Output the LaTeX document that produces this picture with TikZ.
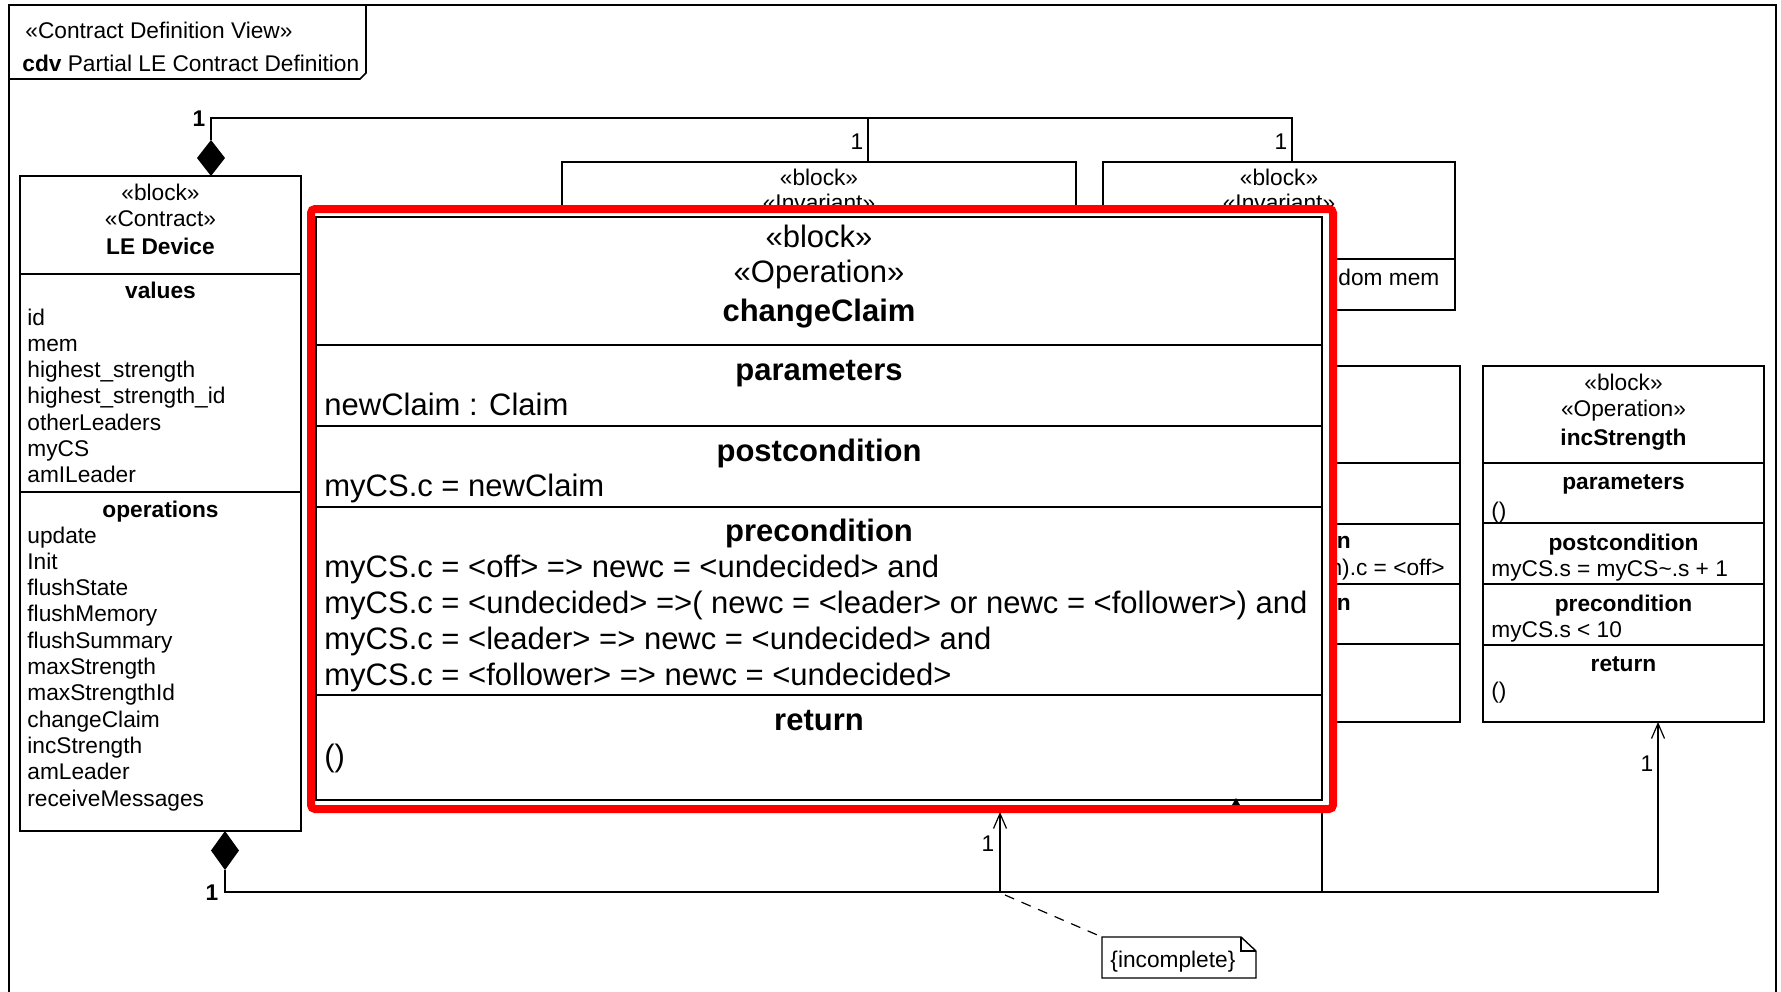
\documentclass[tikz,border=0pt]{standalone}
\usepackage{fontspec}
\setmainfont{Liberation Sans}
\usetikzlibrary{arrows.meta,shadows}

\begin{document}
\begin{tikzpicture}[x=0.5pt,y=-0.5pt,
  sm/.style={font=\fontsize{11.35pt}{13pt}\selectfont, inner sep=0pt, anchor=base},
  smb/.style={sm, font=\fontsize{11.35pt}{13pt}\selectfont\bfseries},
  sml/.style={sm, anchor=base west},
  lg/.style={font=\fontsize{15.5pt}{18pt}\selectfont, inner sep=0pt, anchor=base},
  lgb/.style={lg, font=\fontsize{15.5pt}{18pt}\selectfont\bfseries},
  lgl/.style={lg, anchor=base west},
  box/.style={draw=black, line width=1pt, fill=white},
  sep/.style={draw=black, line width=1pt},
  conn/.style={draw=black, line width=0.6pt},
  openhead/.style={-{Straight Barb[length=7.5pt,width=6.5pt,line width=0.6pt]}},
  note/.style={draw=black, line width=0.7pt, fill=white},
]
\useasboundingbox (0,0) rectangle (1781,991);

% diagram frame and its name tab
\draw[line width=1pt] (9,1000) -- (9,5) -- (1776,5) -- (1776,1000);
\draw[line width=0.8pt] (9,79) -- (360,79) -- (366,73) -- (366,5);
\node[sml] (tabkind) at (25,38) {«Contract Definition View»};
\node[sml] (tabname) at (22,71) {\textbf{cdv} Partial LE Contract Definition};

% LE Device contract block
\draw[box] (20,176) rectangle (301,831);
\draw[sep] (20,274) -- (301,274);
\draw[sep] (20,492) -- (301,492);
\node[sm]  (leS1) at (160.5,200) {«block»};
\node[sm]  (leS2) at (160.5,226) {«Contract»};
\node[smb] (leName) at (160.5,254) {LE Device};
\node[smb] (leVal) at (160.5,298) {values};
\foreach \t [count=\i] in {id,mem,highest\_strength,highest\_strength\_id,otherLeaders,myCS,amILeader}
  \node[sml] (val\i) at (27,{325+26.3*(\i-1)}) {\t};
\node[smb] (leOps) at (160.5,517) {operations};
\foreach \t [count=\i] in {update,Init,flushState,flushMemory,flushSummary,maxStrength,maxStrengthId,changeClaim,incStrength,amLeader,receiveMessages}
  \node[sml] (op\i) at (27,{543+26.3*(\i-1)}) {\t};

% invariant blocks along the top
\draw[box] (562,162) rectangle (1076,310);
\node[sm] (inv1S1) at (819,185) {«block»};
\node[sm] (inv1S2) at (819,210) {«Invariant»};
\draw[box] (1103,162) rectangle (1455,310);
\draw[sep] (1103,259) -- (1455,259);
\node[sm] (inv2S1) at (1279,185) {«block»};
\node[sm] (inv2S2) at (1279,210) {«Invariant»};
\node[sml] (inv2Body) at (1338,285) {dom mem};

% composition from LE Device to the invariants
\fill (211,176) -- (197,158) -- (211,140) -- (225,158) -- cycle;
\coordinate (dTop) at (211,140);
\coordinate (jInv1) at (868,118);
\coordinate (jInv2) at (1292,118);
\coordinate (inv1Top) at (868,162);
\coordinate (inv2Top) at (1292,162);
\draw[conn] (dTop) |- (jInv2) -- (inv2Top);
\draw[conn] (jInv1) -- (inv1Top);
\node[smb] (mTop) at (199,126) {1};
\node[sm] (mInv1) at (857,149) {1};
\node[sm] (mInv2) at (1281,149) {1};

% operation block partly behind changeClaim
\draw[box] (1100,366) rectangle (1460,722);
\foreach \yy in {463,524,584,644} \draw[sep] (1100,\yy) -- (1460,\yy);
\node[smb, anchor=base east] (hidPost) at (1351,548) {n};
\node[sm, anchor=base east] (hidPostBody) at (1445,575) {n).c = <off>};
\node[smb, anchor=base east] (hidPre) at (1351,610) {n};

% incStrength operation block
\draw[box] (1483,366) rectangle (1764,722);
\foreach \yy in {463,523,584,645} \draw[sep] (1483,\yy) -- (1764,\yy);
\node[sm]  (incS1) at (1623.5,390) {«block»};
\node[sm]  (incS2) at (1623.5,416) {«Operation»};
\node[smb] (incName) at (1623.5,445) {incStrength};
\node[smb] (incPar) at (1623.5,489) {parameters};
\node[sml] (incParB) at (1491,518) {()};
\node[smb] (incPost) at (1623.5,550) {postcondition};
\node[sml] (incPostB) at (1491,576) {myCS.s = myCS\textasciitilde.s + 1};
\node[smb] (incPre) at (1623.5,611) {precondition};
\node[sml] (incPreB) at (1491,637) {myCS.s < 10};
\node[smb] (incRet) at (1623.5,671) {return};
\node[sml] (incRetB) at (1491,698) {()};

% composition from LE Device to the operations
\fill (225,831) -- (211,850.5) -- (225,870) -- (239,850.5) -- cycle;
\coordinate (dBot) at (225,870);
\coordinate (jInc) at (1658,892);
\coordinate (incBot) at (1658,722);
\coordinate (jHid) at (1322,892);
\coordinate (hidBot) at (1322,722);
\coordinate (jCC) at (1000,892);
\coordinate (ccBot) at (1000,812);
\draw[conn, openhead] (dBot) |- (jInc) -- (incBot);
\draw[conn] (jHid) -- (hidBot);
\node[smb] (mBot) at (212,900) {1};
\node[sm] (mInc) at (1647,771) {1};
\node[sm] (mCC) at (988,851) {1};

% constraint note
\draw[note] (1102,937) -- (1241,937) -- (1256,951) -- (1256,978) -- (1102,978) -- cycle;
\draw[note, fill=none] (1241,937) -- (1241,951) -- (1256,951);
\coordinate (noteTL) at (1102,937);
\node[sml] (noteText) at (1110,967) {\{incomplete\}};
\coordinate (jNote) at (1005,895);
\draw[conn, dash pattern=on 5pt off 4pt] (jNote) -- (noteTL);

% highlighted changeClaim operation block
\draw[red, line width=4pt, rounded corners=2pt, fill=white,
      drop shadow={shadow xshift=1.2pt, shadow yshift=-1.2pt, opacity=0.25}]
  (311,209) rectangle (1333,809);
\draw[box] (316,217) rectangle (1322,800);
\foreach \yy in {345,426,507,695} \draw[sep] (316,\yy) -- (1322,\yy);
\node[lg]  (ccS1) at (819,247) {«block»};
\node[lg]  (ccS2) at (819,282) {«Operation»};
\node[lgb] (ccName) at (819,321) {changeClaim};
\node[lgb] (ccPar) at (819,380) {parameters};
\node[lgl] (ccParB) at (324,415) {newClaim : Claim};
\node[lgb] (ccPost) at (819,461) {postcondition};
\node[lgl] (ccPostB) at (324,496) {myCS.c = newClaim};
\node[lgb] (ccPre) at (819,541) {precondition};
\node[lgl] (ccPre1) at (324,577) {myCS.c = <off> => newc = <undecided> and};
\node[lgl] (ccPre2) at (324,613) {myCS.c = <undecided> =>( newc = <leader> or newc = <follower>) and};
\node[lgl] (ccPre3) at (324,649) {myCS.c = <leader> => newc = <undecided> and};
\node[lgl] (ccPre4) at (324,685) {myCS.c = <follower> => newc = <undecided>};
\node[lgb] (ccRet) at (819,730) {return};
\node[lgl] (ccRetB) at (324,766) {()};

% arrow into changeClaim and a tip peeking out from behind it
\draw[conn, openhead] (jCC) -- (ccBot);
\fill (1232,805) -- (1236,798) -- (1240,805) -- cycle;
\end{tikzpicture}
\end{document}
